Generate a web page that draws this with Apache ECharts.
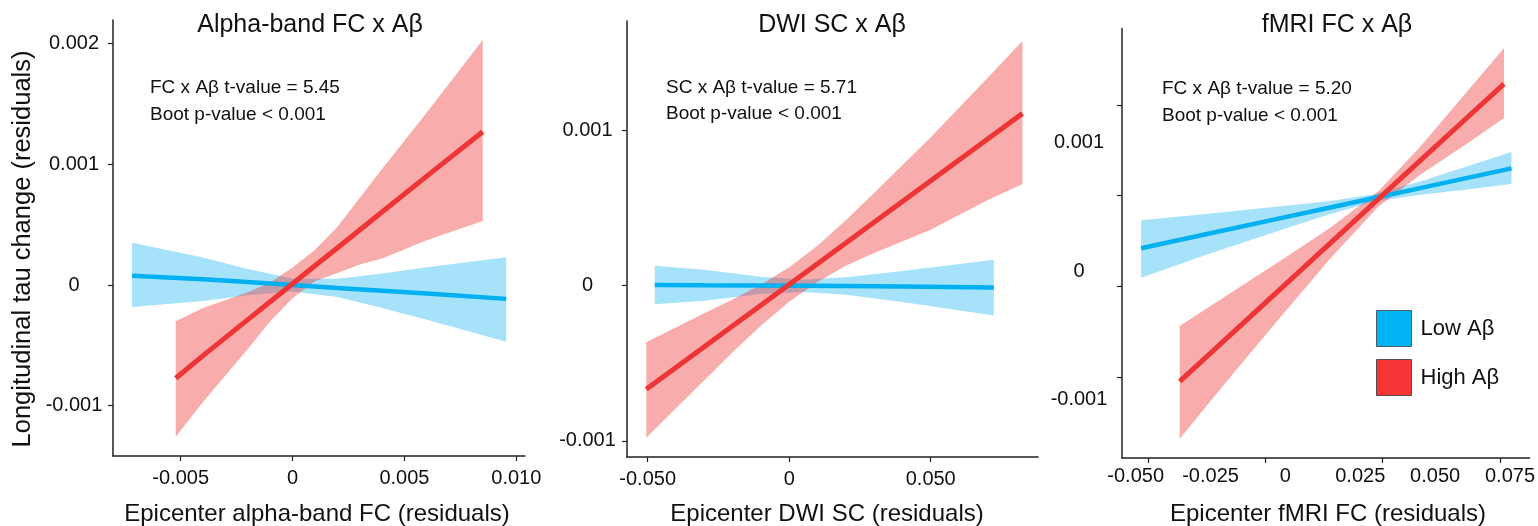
<!DOCTYPE html>
<html>
<head>
<meta charset="utf-8">
<title>Epicenter connectivity x Aβ</title>
<script src="https://cdn.jsdelivr.net/npm/echarts@6/dist/echarts.min.js"></script>
<style>
  html, body { margin: 0; padding: 0; background: #fff; }
  #chart { width: 1538px; height: 526px; }
</style>
</head>
<body>
<div id="chart"></div>
<script>
// ---- data (x, fitted line, upper/lower CI) ----
// alpha-band FC
var alphaLowX = [-0.00717, -0.004, -0.002, 0, 0.002, 0.004, 0.006, 0.00955];
var alphaLowFit = [0.000077, 0.000047, 0.000024, 0, -0.000024, -0.000047, -0.000071, -0.000115];
var alphaLowUp = [0.00035, 0.000227, 0.000132, 0.000054, 0.000052, 0.000096, 0.000146, 0.00023];
var alphaLowLo = [-0.000182, -0.000133, -0.000084, -0.000054, -0.0001, -0.00019, -0.000288, -0.00047];
var alphaHighX = [-0.00522, -0.004, -0.002, -0.001, 0, 0.001, 0.002, 0.003, 0.004, 0.006, 0.0085];
var alphaHighFit = [-0.000773, -0.000585, -0.000287, -0.000139, 0.00001, 0.000159, 0.000307, 0.000456, 0.000605, 0.000902, 0.00127];
var alphaHighUp = [-0.0003, -0.00019, -0.00006, 0.00002, 0.000145, 0.00029, 0.00048, 0.00072, 0.00096, 0.00143, 0.00203];
var alphaHighLo = [-0.001257, -0.00097, -0.00053, -0.0003, -0.00011, 0.00003, 0.0001, 0.00017, 0.00022, 0.00037, 0.00053];

// DWI SC
var dwiLowX = [-0.0475, -0.03, -0.01, 0.005, 0.02, 0.04, 0.0723];
var dwiLowFit = [0.000004, 0.000002, 0.000001, -0.000001, -0.000003, -0.000006, -0.000013];
var dwiLowUp = [0.000128, 0.000102, 0.000057, 0.000039, 0.000053, 0.000094, 0.000167];
var dwiLowLo = [-0.00012, -0.000098, -0.000055, -0.000041, -0.000059, -0.000106, -0.000192];
var dwiHighX = [-0.0505, -0.03, -0.02, -0.01, 0, 0.01, 0.02, 0.03, 0.05, 0.07, 0.0824];
var dwiHighFit = [-0.000668, -0.000394, -0.00026, -0.000127, 0.000007, 0.00014, 0.000274, 0.000408, 0.000675, 0.000943, 0.001108];
var dwiHighUp = [-0.000365, -0.000178, -0.00009, 0.000005, 0.000118, 0.000257, 0.00042, 0.000596, 0.000955, 0.001336, 0.001575];
var dwiHighLo = [-0.00098, -0.00061, -0.00043, -0.000259, -0.000104, 0.000023, 0.000128, 0.00021, 0.00036, 0.00055, 0.000655];

// fMRI FC
var fmriLowX = [-0.0482, -0.025, 0, 0.015, 0.03, 0.045, 0.06, 0.0755];
var fmriLowFit = [0.000177, 0.000294, 0.00042, 0.000495, 0.000571, 0.000646, 0.000722, 0.0008];
var fmriLowUp = [0.000395, 0.000449, 0.000508, 0.000546, 0.000601, 0.000697, 0.00081, 0.000928];
var fmriLowLo = [-0.0000525, 0.000139, 0.000332, 0.000444, 0.000541, 0.000595, 0.000634, 0.000679];
var fmriHighX = [-0.0353, -0.02, 0, 0.015, 0.031, 0.045, 0.06, 0.073];
var fmriHighFit = [-0.00086, -0.000533, -0.000104, 0.000217, 0.00056, 0.00086, 0.001181, 0.001459];
var fmriHighUp = [-0.000429, -0.000196, 0.000106, 0.000337, 0.00062, 0.000969, 0.001379, 0.001738];
var fmriHighLo = [-0.001307, -0.00087, -0.000314, 0.000097, 0.0005, 0.000751, 0.000983, 0.001192];

// tick labels
var alphaXTicks = [-0.005, 0, 0.005, 0.01];
var alphaYTicks = [-0.001, 0, 0.001, 0.002];
var dwiXTicks = [-0.05, 0, 0.05];
var dwiYTicks = [-0.001, 0, 0.001];
var fmriXLabels = [-0.05, -0.025, 0, 0.025, 0.05, 0.075];
var fmriYLabels = [-0.001, 0, 0.001];
// in the fMRI panel the tick marks do not sit under the labels
var fmriXTickMarks = [-0.04577, -0.00661, 0.03251, 0.07163];
var fmriYTickMarks = [-0.000824, -0.000118, 0.000588, 0.001294];

var titles = ['Alpha-band FC x Aβ', 'DWI SC x Aβ', 'fMRI FC x Aβ'];
var xNames = ['Epicenter alpha-band FC (residuals)', 'Epicenter DWI SC (residuals)', 'Epicenter fMRI FC (residuals)'];
var yName = 'Longitudinal tau change (residuals)';
var notes = [
  ['FC x Aβ t-value = 5.45', 'Boot p-value < 0.001'],
  ['SC x Aβ t-value = 5.71', 'Boot p-value < 0.001'],
  ['FC x Aβ t-value = 5.20', 'Boot p-value < 0.001']
];
var groups = ['Low Aβ', 'High Aβ'];

var FONT = '"Liberation Sans", Arial, sans-serif';
var BLUE = '#00b0f0';
var RED = '#ee3434';
var BLUE_BAND = 'rgba(0,176,240,0.35)';
var RED_BAND = 'rgba(238,48,48,0.40)';

var chart = echarts.init(document.getElementById('chart'), null, { renderer: 'canvas' });

function fmt(v) {
  return v === 0 ? '0' : v.toFixed(3);
}

function pairs(xs, ys) {
  return xs.map(function (x, i) { return [x, ys[i]]; });
}

// confidence band drawn as one polygon: upper edge forward, lower edge back
function bandSeries(name, idx, xs, up, lo, fill) {
  var pts = pairs(xs, up);
  for (var i = xs.length - 1; i >= 0; i--) pts.push([xs[i], lo[i]]);
  return {
    type: 'custom',
    name: name,
    xAxisIndex: idx,
    yAxisIndex: idx,
    silent: true,
    data: pts,
    encode: { x: 0, y: 1 },
    renderItem: function (params, api) {
      if (params.dataIndex !== 0) return null;
      return {
        type: 'polygon',
        shape: { points: pts.map(function (p) { return api.coord(p); }) },
        style: { fill: fill }
      };
    }
  };
}

function lineSeries(idx, xs, ys, color, width) {
  return {
    type: 'line',
    xAxisIndex: idx,
    yAxisIndex: idx,
    data: pairs(xs, ys),
    showSymbol: false,
    silent: true,
    lineStyle: { color: color, width: width, cap: 'butt' },
    itemStyle: { color: color }
  };
}

function axis(min, max, labels, ticks, margin, labelAlign) {
  return {
    type: 'value',
    min: min,
    max: max,
    splitLine: { show: false },
    axisLine: { show: true, onZero: false, lineStyle: { color: '#222', width: 1.5 } },
    axisTick: { show: true, length: 5, customValues: ticks || labels, lineStyle: { color: '#222', width: 1.2 } },
    axisLabel: {
      customValues: labels,
      formatter: fmt,
      margin: margin,
      align: labelAlign,
      color: '#111',
      fontSize: 20,
      fontFamily: FONT
    }
  };
}

function text(str, x, y, size, align, rotation) {
  return {
    type: 'text',
    x: x,
    y: y,
    rotation: rotation || 0,
    silent: true,
    style: {
      text: str,
      fill: '#111',
      font: size + 'px ' + FONT,
      textAlign: align || 'left',
      textVerticalAlign: 'middle'
    }
  };
}

function getOption() {
  var grids = [
    { left: 113, top: 20, width: 412, height: 436 },
    { left: 627, top: 21, width: 411, height: 436 },
    { left: 1122, top: 28.5, width: 414, height: 429.5 }
  ];
  var xAxes = [
    axis(-0.008023, 0.010389, alphaXTicks, null, 12),
    axis(-0.0573, 0.0879, dwiXTicks, null, 12),
    axis(-0.05457, 0.08154, fmriXLabels, fmriXTickMarks, 8.5)
  ];
  var yAxes = [
    axis(-0.0014168, 0.0021955, alphaYTicks, null, 39, 'center'),
    axis(-0.001104, 0.001704, dwiYTicks, null, 39.5, 'center'),
    axis(-0.001457, 0.00189, fmriYLabels, fmriYTickMarks, 43, 'center')
  ];
  xAxes.forEach(function (a, i) { a.gridIndex = i; });
  yAxes.forEach(function (a, i) { a.gridIndex = i; });

  var series = [
    bandSeries(groups[0], 0, alphaLowX, alphaLowUp, alphaLowLo, BLUE_BAND),
    lineSeries(0, alphaLowX, alphaLowFit, BLUE, 4.5),
    bandSeries(groups[1], 0, alphaHighX, alphaHighUp, alphaHighLo, RED_BAND),
    lineSeries(0, alphaHighX, alphaHighFit, RED, 5),

    bandSeries(groups[0], 1, dwiLowX, dwiLowUp, dwiLowLo, BLUE_BAND),
    lineSeries(1, dwiLowX, dwiLowFit, BLUE, 4.5),
    bandSeries(groups[1], 1, dwiHighX, dwiHighUp, dwiHighLo, RED_BAND),
    lineSeries(1, dwiHighX, dwiHighFit, RED, 5),

    bandSeries(groups[0], 2, fmriLowX, fmriLowUp, fmriLowLo, BLUE_BAND),
    lineSeries(2, fmriLowX, fmriLowFit, BLUE, 4.5),
    bandSeries(groups[1], 2, fmriHighX, fmriHighUp, fmriHighLo, RED_BAND),
    lineSeries(2, fmriHighX, fmriHighFit, RED, 5)
  ];

  var titleX = [310, 832, 1337];
  var nameX = [317, 827, 1328];
  var noteX = [150, 666, 1162];
  var noteY = [88, 87.5, 89];
  var graphics = [];
  for (var i = 0; i < 3; i++) {
    graphics.push(text(titles[i], titleX[i], 25, 25, 'center'));
    graphics.push(text(xNames[i], nameX[i], 514, 24, 'center'));
    graphics.push(text(notes[i][0], noteX[i], noteY[i], 19));
    graphics.push(text(notes[i][1], noteX[i], noteY[i] + 26.5, 19));
  }
  graphics.push(text(yName, 23, 249, 25.5, 'center', Math.PI / 2));

  return {
    animation: false,
    backgroundColor: '#fff',
    grid: grids,
    xAxis: xAxes,
    yAxis: yAxes,
    legend: {
      orient: 'vertical',
      left: 1376,
      top: 310,
      padding: 0,
      itemWidth: 35,
      itemHeight: 36,
      itemGap: 12,
      selectedMode: false,
      textStyle: { fontSize: 22, fontFamily: FONT, color: '#111', padding: [0, 0, 0, 4] },
      data: [
        { name: groups[0], icon: 'rect', itemStyle: { color: '#00b4f5', borderColor: '#4a5a66', borderWidth: 1 } },
        { name: groups[1], icon: 'rect', itemStyle: { color: '#f53535', borderColor: '#5a4a4a', borderWidth: 1 } }
      ]
    },
    graphic: graphics,
    series: series
  };
}

chart.setOption(getOption());
</script>
</body>
</html>
